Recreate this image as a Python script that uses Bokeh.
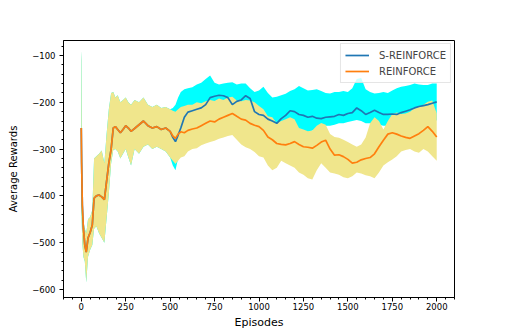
from bokeh.plotting import figure
from bokeh.models import Range1d, SingleIntervalTicker, CustomJSTickFormatter
from bokeh.embed import file_html
from bokeh.resources import INLINE

# ---------------- data ----------------
EP_HEAD = [0, 2, 6, 12, 20, 28, 38, 50, 62, 72, 85, 100, 115, 130, 142, 155, 168,
           180, 192, 205, 220, 235, 250, 265, 280, 300, 325, 350, 375, 400, 425, 450, 475]
EP_TAIL = [500, 515, 530, 545, 560, 580, 600] + list(range(625, 2001, 25))

# REINFORCE (mean, band upper, band lower)
R_MEAN_HEAD = [-255, -330, -420, -470, -505, -520, -490, -478, -462, -405, -400, -398, -402,
               -408, -370, -330, -300, -255, -252, -258, -265, -258, -250, -255, -262, -256,
               -248, -240, -250, -255, -252, -258, -255]
R_UP_HEAD = [-90, -110, -440, -455, -470, -480, -450, -445, -430, -320, -315, -310, -303,
             -330, -270, -215, -180, -178, -190, -185, -200, -195, -190, -200, -205, -195,
             -200, -190, -205, -210, -205, -212, -210]
R_LO_HEAD = [-420, -450, -500, -530, -540, -585, -530, -515, -505, -470, -465, -480, -490,
             -500, -450, -395, -330, -302, -300, -305, -320, -310, -300, -318, -335, -300,
             -310, -295, -290, -300, -295, -300, -305]

R_MEAN_TAIL = [-262, -272, -277, -268, -263, -265, -260, -257, -255, -250, -245, -240, -242,
               -236, -232, -228, -224, -230, -236, -238, -245, -249, -252, -260, -274, -280,
               -288, -290, -291, -288, -284, -290, -295, -296, -298, -292, -285, -281, -300,
               -313, -312, -316, -322, -330, -328, -323, -320, -318, -310, -295, -281, -268,
               -265, -268, -272, -275, -277, -272, -267, -260, -252, -262, -274]
R_UP_TAIL = [-215, -218, -220, -215, -210, -208, -205, -205, -200, -202, -198, -195, -197,
             -192, -195, -190, -188, -196, -198, -195, -196, -200, -208, -215, -230, -232,
             -245, -240, -236, -232, -236, -255, -258, -262, -260, -250, -244, -248, -268,
             -274, -276, -280, -285, -290, -295, -290, -275, -245, -232, -240, -258, -240,
             -225, -222, -225, -224, -220, -212, -210, -205, -199, -196, -224]
R_LO_TAIL = [-318, -325, -332, -325, -318, -315, -305, -300, -298, -292, -288, -285, -282,
             -278, -275, -272, -270, -280, -290, -296, -300, -306, -315, -318, -335, -345,
             -340, -325, -330, -335, -340, -350, -355, -362, -365, -345, -330, -340, -350,
             -352, -355, -360, -362, -358, -350, -352, -356, -358, -362, -350, -335, -328,
             -322, -315, -305, -302, -300, -305, -308, -300, -305, -315, -325]

# S-REINFORCE (identical to REINFORCE before episode 500)
S_MEAN_TAIL = [-262, -275, -284, -270, -255, -232, -221, -218, -215, -212, -205, -190, -187,
               -185, -186, -190, -205, -198, -195, -186, -192, -220, -226, -228, -236, -240,
               -245, -235, -228, -218, -220, -226, -228, -232, -230, -234, -235, -232, -231,
               -230, -226, -228, -224, -222, -212, -218, -226, -222, -217, -222, -226, -226,
               -225, -226, -222, -219, -216, -212, -209, -207, -205, -202, -199]
S_UP_TAIL = [-215, -212, -205, -190, -178, -172, -170, -168, -162, -158, -150, -143, -158,
             -162, -160, -158, -157, -162, -160, -160, -170, -178, -175, -167, -180, -190,
             -188, -185, -182, -176, -172, -165, -170, -175, -174, -172, -176, -180, -181,
             -178, -178, -176, -178, -170, -150, -148, -172, -178, -181, -180, -178, -180,
             -175, -170, -167, -165, -163, -160, -162, -163, -163, -160, -160]
S_LO_TAIL = [-318, -335, -345, -320, -300, -290, -280, -270, -265, -260, -255, -250, -245,
             -240, -245, -250, -255, -250, -248, -245, -255, -262, -270, -272, -275, -278,
             -275, -270, -262, -258, -260, -262, -262, -265, -260, -258, -255, -250, -250,
             -248, -245, -245, -242, -240, -238, -240, -245, -245, -245, -248, -250, -250,
             -245, -245, -240, -238, -235, -232, -230, -228, -225, -225, -240]

for arr in (R_MEAN_HEAD, R_UP_HEAD, R_LO_HEAD):
    assert len(arr) == len(EP_HEAD), len(arr)
for arr in (R_MEAN_TAIL, R_UP_TAIL, R_LO_TAIL, S_MEAN_TAIL, S_UP_TAIL, S_LO_TAIL):
    assert len(arr) == len(EP_TAIL), len(arr)

episodes = EP_HEAD + EP_TAIL
r_mean = R_MEAN_HEAD + R_MEAN_TAIL
r_up = R_UP_HEAD + R_UP_TAIL
r_lo = R_LO_HEAD + R_LO_TAIL
s_mean = R_MEAN_HEAD + S_MEAN_TAIL
s_up = R_UP_HEAD + S_UP_TAIL
s_lo = R_LO_HEAD + S_LO_TAIL

FONT = "DejaVu Sans"

p = figure(width=505, height=332, output_backend="svg", toolbar_location=None,
           x_range=Range1d(-100, 2100), y_range=Range1d(-617, -68),
           min_border_left=63, min_border_right=51, min_border_top=40, min_border_bottom=35)
p.background_fill_color = "white"
p.border_fill_color = "white"
p.xgrid.visible = False
p.ygrid.visible = False
p.outline_line_color = "black"
p.outline_line_width = 1
p.outline_line_alpha = 1

p.varea(x=episodes, y1=s_lo, y2=s_up, fill_color="#00ffff", fill_alpha=1)
p.varea(x=episodes, y1=r_lo, y2=r_up, fill_color="#f0e68c", fill_alpha=1)
p.line(episodes, s_mean, line_color="#1f77b4", line_width=1.7, legend_label="S-REINFORCE")
p.line(episodes, r_mean, line_color="#ff7f0e", line_width=1.7, legend_label="REINFORCE")

fmt = CustomJSTickFormatter(code="return tick < 0 ? '\u2212' + Math.abs(tick) : '' + tick;")

p.xaxis.ticker = SingleIntervalTicker(interval=250, num_minor_ticks=5)
p.yaxis.ticker = SingleIntervalTicker(interval=100, num_minor_ticks=5)
p.yaxis.formatter = fmt
p.xaxis.axis_label = "Episodes"
p.yaxis.axis_label = "Average Rewards"
for ax in (p.xaxis, p.yaxis):
    ax.major_label_text_font = FONT
    ax.major_label_text_font_size = "8.5px"
    ax.major_label_text_color = "black"
    ax.axis_label_text_font = FONT
    ax.axis_label_text_font_style = "normal"
    ax.axis_label_text_color = "black"
    ax.axis_line_color = "black"
    ax.major_tick_line_color = "black"
    ax.minor_tick_line_color = "black"
    ax.major_tick_in = 0
    ax.major_tick_out = 4
    ax.minor_tick_in = 0
    ax.minor_tick_out = 2
p.xaxis.axis_label_text_font_size = "11px"
p.yaxis.axis_label_text_font_size = "10px"
p.xaxis.major_label_standoff = 1
p.xaxis.axis_label_standoff = 3
p.yaxis.major_label_standoff = 4
p.yaxis.axis_label_standoff = 10

lg = p.legend[0]
lg.location = "top_right"
lg.margin = 3
lg.padding = 4
lg.spacing = 2
lg.glyph_width = 24
lg.glyph_height = 14
lg.label_height = 14
lg.label_standoff = 10
lg.label_text_font = FONT
lg.label_text_font_size = "10px"
lg.border_line_color = "#cccccc"
lg.border_line_width = 1
lg.background_fill_alpha = 0.8

open("out.html", "w").write(file_html(p, INLINE))
